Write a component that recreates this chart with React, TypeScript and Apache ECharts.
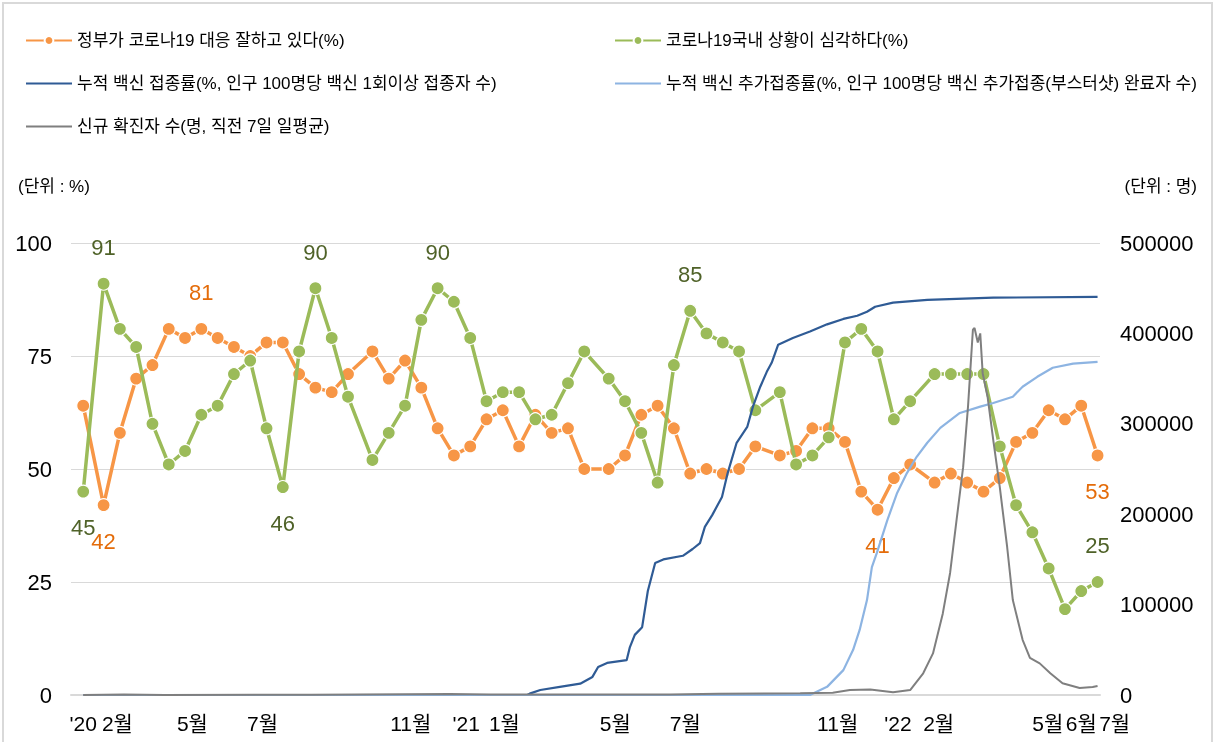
import React, { useEffect, useRef } from 'react';
import * as echarts from 'echarts';

const FONT = "'Liberation Sans', 'Noto Sans CJK KR', sans-serif";

// Survey waves: position in weeks from the first survey (late Jan 2020)
const surveyWeek = [0, 2.5, 4.5, 6.5, 8.5, 10.5, 12.5, 14.5, 16.5, 18.5, 20.5, 22.5, 24.5, 26.5, 28.5, 30.5, 32.5, 35.5, 37.5, 39.5, 41.5, 43.5, 45.5, 47.5, 49.5, 51.5, 53.5, 55.5, 57.5, 59.5, 61.5, 64.5, 66.5, 68.5, 70.5, 72.5, 74.5, 76.5, 78.5, 80.5, 82.5, 85.5, 87.5, 89.5, 91.5, 93.5, 95.5, 97.5, 99.5, 101.5, 104.5, 106.5, 108.5, 110.5, 112.5, 114.5, 116.5, 118.5, 120.5, 122.5, 124.5];

// 정부가 코로나19 대응 잘하고 있다(%)
const govGood = [64, 42, 58, 70, 73, 81, 79, 81, 79, 77, 75, 78, 78, 71, 68, 67, 71, 76, 70, 74, 68, 59, 53, 55, 61, 63, 55, 62, 58, 59, 50, 50, 53, 62, 64, 59, 49, 50, 49, 50, 55, 53, 54, 59, 59, 56, 45, 41, 48, 51, 47, 49, 47, 45, 48, 56, 58, 63, 61, 64, 53];

// 코로나19 국내 상황이 심각하다(%)
const serious = [45, 91, 81, 77, 60, 51, 54, 62, 64, 71, 74, 59, 46, 76, 90, 79, 66, 52, 58, 64, 83, 90, 87, 79, 65, 67, 67, 61, 62, 69, 76, 70, 65, 58, 47, 73, 85, 80, 78, 76, 63, 67, 51, 53, 57, 78, 81, 76, 61, 65, 71, 71, 71, 71, 55, 42, 36, 28, 19, 23, 25];

// which points carry a value label
const govLabelAt: Record<number, string> = { 1: 'bottom', 7: 'top', 47: 'bottom', 60: 'bottom' };
const seriousLabelAt: Record<number, string> = { 0: 'bottom', 1: 'top', 12: 'bottom', 14: 'top', 21: 'top', 36: 'top', 60: 'top' };

// 누적 백신 접종률 (%): [week, value]
const vaxWeek = [0, 54.5, 54.8, 56.1, 58.5, 61.0, 62.5, 63.2, 64.3, 66.7, 67.1, 67.7, 68.6, 69.3, 70.2, 71.2, 73.6, 74.8, 75.7, 76.3, 77.2, 78.4, 79.1, 80.2, 81.5, 82.2, 83.1, 83.9, 84.5, 85.3, 87.1, 89.2, 91.3, 93.3, 95.0, 96.2, 97.2, 99.4, 103.6, 111.7, 124.5];
const vaxRate = [0, 0, 0.3, 1.1, 1.8, 2.5, 4, 6.2, 7.1, 7.7, 10.6, 13.3, 15, 23, 29.2, 30, 30.8, 32.3, 33.6, 37.2, 39.8, 43.8, 49.1, 55.8, 59.3, 63.8, 68.2, 71.5, 73.5, 77.5, 79, 80.4, 82, 83.2, 83.9, 84.8, 85.9, 86.8, 87.4, 87.9, 88.1];

// 누적 백신 추가접종률 (%)
const boostWeek = [0, 89.2, 91.3, 93.3, 94.5, 95.3, 96.2, 96.8, 97.4, 98.7, 99.9, 101.1, 102.3, 103.6, 105.2, 107.6, 110.1, 111.7, 114.1, 115.3, 117.1, 119.0, 121.5, 124.5];
const boostRate = [0, 0, 1.8, 5.5, 10, 14.4, 21, 28.3, 31.4, 38.7, 44.7, 49.1, 52.7, 55.8, 59.1, 62.4, 63.8, 64.6, 66, 68.2, 70.4, 72.4, 73.3, 73.7];

// 신규 확진자 수 (명, 7일 평균)
const caseWeek = [0, 5, 10, 28, 45, 50, 72, 78, 88, 92, 94.1, 96.6, 99.4, 101.5, 103.1, 104.3, 105.5, 106.4, 107.2, 108.0, 108.6, 109.2, 109.4, 109.8, 110.1, 110.4, 111.0, 111.7, 112.5, 113.4, 114.1, 115.3, 116.2, 117.4, 118.7, 120.2, 122.3, 123.9, 124.5];
const caseCount = [0, 500, 80, 300, 1000, 450, 600, 1500, 2000, 2600, 5500, 6000, 3000, 5500, 24000, 46000, 90000, 135000, 194000, 252000, 319000, 404000, 406000, 390000, 400000, 356000, 330000, 282000, 230000, 164000, 105000, 61000, 41000, 35000, 24000, 13000, 7700, 8800, 10000];

// x-axis month labels and their positions (weeks)
const xLabels = ["'20", '2월', '5월', '7월', '11월', "'21", '1월', '5월', '7월', '11월', "'22", '2월', '5월', '6월', '7월'];
const xLabelWeek = [0, 4.2, 13.4, 22, 40.2, 47, 51.7, 65.3, 73.9, 92.6, 100, 105, 118.4, 122.5, 126.6];

const names = [
  '정부가 코로나19 대응 잘하고 있다(%)',
  '코로나19국내 상황이 심각하다(%)',
  '누적 백신 접종률(%, 인구 100명당 백신 1회이상 접종자 수)',
  '누적 백신 추가접종률(%, 인구 100명당 백신 추가접종(부스터샷) 완료자 수)',
  '신규 확진자 수(명, 직전 7일 일평균)',
];

const ORANGE = '#F79646';
const GREEN = '#9BBB59';
const NAVY = '#2F5B95';
const LIGHTBLUE = '#8DB4E2';
const GRAY = '#7F7F7F';

const LINE_ICON = 'path://M0,0H46V2.2H0Z';

function pointData(vals: number[], labelAt: Record<number, string>, color: string) {
  return surveyWeek.map((w, i) => {
    const item: any = { value: [w, vals[i]] };
    if (labelAt[i]) {
      item.label = {
        show: true,
        position: labelAt[i],
        distance: 18,
        color,
        fontSize: 22,
        fontFamily: FONT,
        formatter: String(vals[i]),
      };
    }
    return item;
  });
}

export default function App() {
  const ref = useRef<HTMLDivElement>(null);
  useEffect(() => {
    const chart = echarts.init(ref.current!, null, { renderer: 'svg' });
    const legendText = { fontSize: 17, fontFamily: FONT, color: '#000' };
    const unitStyle = { fontSize: 17, fontWeight: 'normal', fontFamily: FONT, color: '#000' };
    const option: any = {
      animation: false,
      title: [
        { text: '(단위 : %)', left: 13, top: 173, textStyle: unitStyle },
        { text: '(단위 : 명)', right: 16, top: 173, textStyle: unitStyle },
      ],
      legend: [
        {
          data: [names[0], { name: names[2], icon: LINE_ICON }, { name: names[4], icon: LINE_ICON }],
          left: 20, top: 27, orient: 'vertical', itemGap: 26,
          itemWidth: 46, itemHeight: 11, textStyle: legendText,
        },
        {
          data: [names[1], { name: names[3], icon: LINE_ICON }],
          left: 609, top: 27, orient: 'vertical', itemGap: 26,
          itemWidth: 46, itemHeight: 11, textStyle: legendText,
        },
      ],
      grid: { left: 71, right: 118, top: 243, bottom: 47, containLabel: false },
      xAxis: {
        type: 'value', min: -1.5, max: 124.8,
        axisLine: { show: true, lineStyle: { color: '#D9D9D9', width: 2 } },
        axisTick: { show: false }, axisLabel: { show: false }, splitLine: { show: false },
      },
      yAxis: [
        {
          type: 'value', min: 0, max: 100, interval: 25, position: 'left',
          axisLine: { show: false }, axisTick: { show: false },
          axisLabel: { fontSize: 22, fontFamily: FONT, color: '#000', margin: 19 },
          splitLine: { lineStyle: { color: '#D9D9D9', width: 1 } },
        },
        {
          type: 'value', min: 0, max: 500000, interval: 100000, position: 'right',
          axisLine: { show: false }, axisTick: { show: false },
          axisLabel: { fontSize: 22, fontFamily: FONT, color: '#000', margin: 20, formatter: (v: number) => String(v) },
          splitLine: { show: false },
        },
      ],
      series: [
        {
          name: names[0], type: 'line', yAxisIndex: 0,
          data: pointData(govGood, govLabelAt, '#E46C0A'),
          symbol: 'circle', symbolSize: 13, showAllSymbol: true,
          lineStyle: { color: ORANGE, width: 3.5 },
          itemStyle: { color: ORANGE, borderColor: '#fff', borderWidth: 1.2 },
          z: 2,
        },
        {
          name: names[1], type: 'line', yAxisIndex: 0,
          data: pointData(serious, seriousLabelAt, '#4F6228'),
          symbol: 'circle', symbolSize: 13, showAllSymbol: true,
          lineStyle: { color: GREEN, width: 3.5 },
          itemStyle: { color: GREEN, borderColor: '#fff', borderWidth: 1.2 },
          z: 3,
        },
        {
          name: names[2], type: 'line', yAxisIndex: 0,
          data: vaxWeek.map((w, i) => [w, vaxRate[i]]),
          symbol: 'none', lineStyle: { color: NAVY, width: 2.2 }, itemStyle: { color: NAVY },
          z: 4,
        },
        {
          name: names[3], type: 'line', yAxisIndex: 0,
          data: boostWeek.map((w, i) => [w, boostRate[i]]),
          symbol: 'none', lineStyle: { color: LIGHTBLUE, width: 2.2 }, itemStyle: { color: LIGHTBLUE },
          z: 5,
        },
        {
          name: names[4], type: 'line', yAxisIndex: 1,
          data: caseWeek.map((w, i) => [w, caseCount[i]]),
          symbol: 'none', lineStyle: { color: GRAY, width: 2 }, itemStyle: { color: GRAY },
          z: 6,
        },
      ],
    };
    chart.setOption(option);

    const labelEls = xLabels.map((t, i) => {
      const px = chart.convertToPixel({ xAxisIndex: 0 }, xLabelWeek[i]) as number;
      return {
        type: 'text', id: 'xl' + i, x: px, y: 723, silent: true,
        style: {
          text: t, fontSize: 21, fontFamily: FONT, fill: '#000',
          align: 'center', verticalAlign: 'middle', textAlign: 'center', textVerticalAlign: 'middle',
        },
      };
    });
    chart.setOption({
      graphic: [
        {
          type: 'rect', id: 'frame', silent: true, z: -1,
          shape: { x: 3, y: 3, width: 1209, height: 760 },
          style: { fill: 'none', stroke: '#D9D9D9', lineWidth: 2 },
        },
        ...labelEls,
      ],
    });
    return () => chart.dispose();
  }, []);
  return <div ref={ref} style={{ position: 'fixed', left: 0, top: 0, width: 1218, height: 742 }} />;
}
